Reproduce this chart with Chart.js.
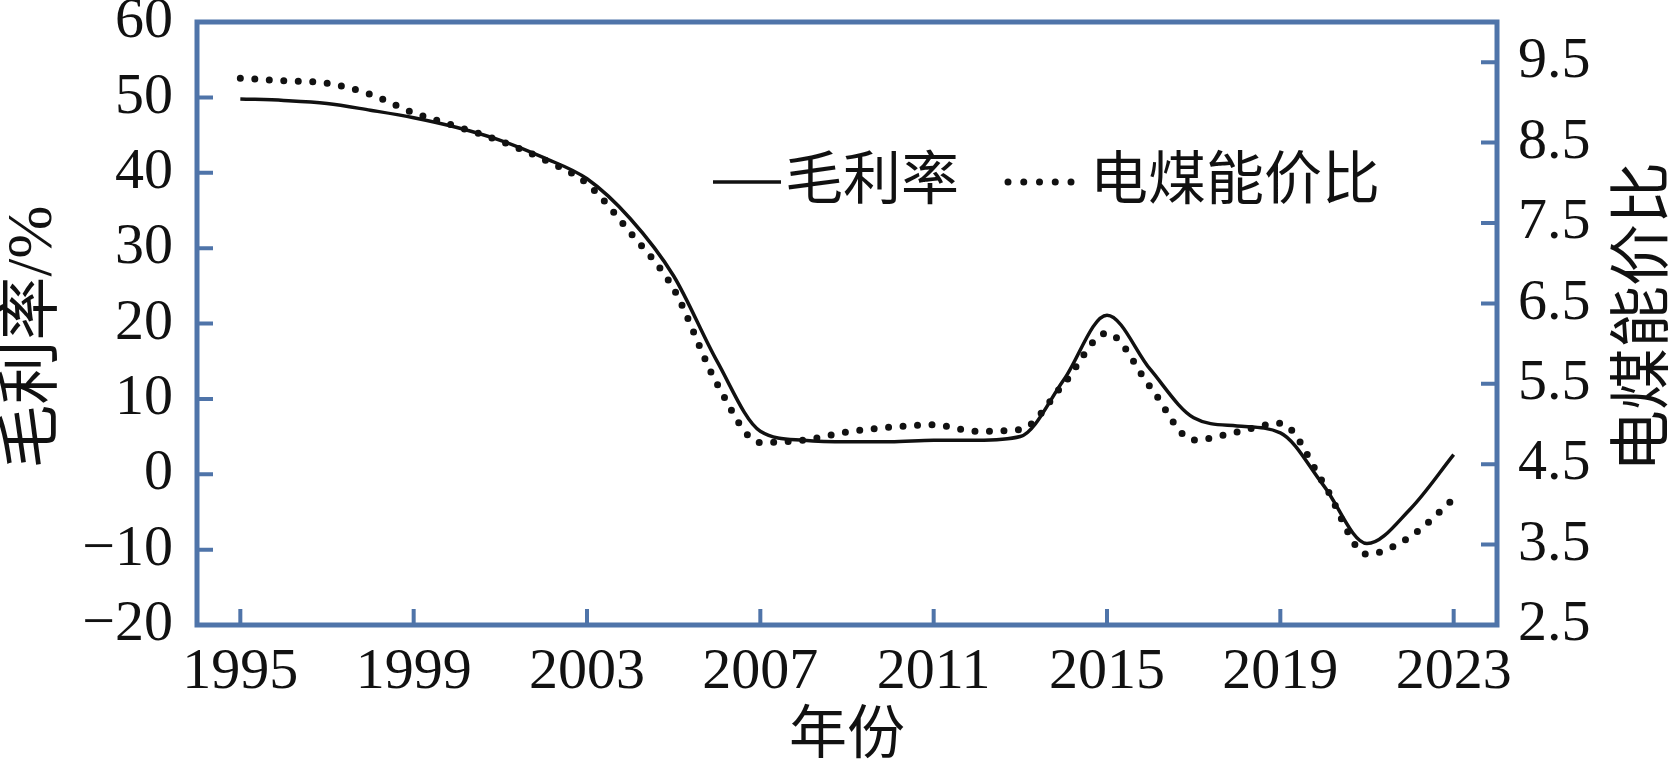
<!DOCTYPE html>
<html lang="zh-CN">
<head>
<meta charset="UTF-8" />
<title>毛利率与电煤能价比</title>
<style>
  * {margin:0; padding:0; box-sizing:border-box;}
  body {background:#fff;}
  .wrap {width:1672px; height:777px; position:relative;}
</style>
</head>
<body>
<div class="wrap"><canvas id="chart"></canvas></div>

<script src="https://cdn.jsdelivr.net/npm/chart.js@4"></script>
<script>
  // data
  const years = [1995, 1996, 1997, 1998, 1999, 2000, 2001, 2002, 2003, 2004,
                 2005, 2006, 2007, 2008, 2009, 2010, 2011, 2012, 2013, 2014,
                 2015, 2016, 2017, 2018, 2019, 2020, 2021, 2022, 2023];
  // 毛利率 (%), left axis
  const margin = [49.8, 49.6, 49.2, 48.3, 47.3, 46.0, 44.3, 42.0, 39.2, 33.9,
                  26.3, 15.0, 5.7, 4.5, 4.3, 4.3, 4.5, 4.5, 5.0, 12.5,
                  21.1, 13.9, 7.5, 6.4, 5.5, -1.5, -9.2, -4.6, 2.6];
  // 电煤能价比, right axis
  const priceRatio = [9.30, 9.27, 9.24, 9.10, 8.87, 8.70, 8.52, 8.29, 7.99, 7.38,
                      6.68, 5.50, 4.77, 4.80, 4.90, 4.96, 4.99, 4.91, 4.93, 5.50,
                      6.13, 5.46, 4.80, 4.90, 5.01, 4.26, 3.38, 3.60, 4.07];

  const xTicks = [1995, 1999, 2003, 2007, 2011, 2015, 2019, 2023];
  const leftTicks = [-20, -10, 0, 10, 20, 30, 40, 50, 60];
  const rightTicks = [2.5, 3.5, 4.5, 5.5, 6.5, 7.5, 8.5, 9.5];

  const frameColor = '#4f74a9';
  const fontFam = '"Liberation Serif", "Noto Sans CJK SC", serif';

  function vTitle(ctx, text, x, y, size) {
    ctx.save();
    ctx.fillStyle = '#111';
    ctx.font = size + 'px ' + fontFam;
    ctx.textAlign = 'center';
    ctx.textBaseline = 'middle';
    ctx.translate(x, y);
    ctx.rotate(-Math.PI / 2);
    ctx.fillText(text, 0, 0);
    ctx.restore();
  }

  // blue box round the plot, inward tick marks, side titles, legend
  const framePlugin = {
    id: 'frame',
    afterDraw(chart) {
      const {ctx, chartArea: a, scales} = chart;
      const tl = 16;
      ctx.save();
      ctx.strokeStyle = frameColor;
      ctx.lineWidth = 4;
      ctx.beginPath();
      scales.x.ticks.forEach(t => {
        const px = scales.x.getPixelForValue(t.value);
        ctx.moveTo(px, a.bottom); ctx.lineTo(px, a.bottom - tl);
      });
      scales.y.ticks.forEach(t => {
        const py = scales.y.getPixelForValue(t.value);
        ctx.moveTo(a.left, py); ctx.lineTo(a.left + tl, py);
      });
      scales.y1.ticks.forEach(t => {
        const py = scales.y1.getPixelForValue(t.value);
        ctx.moveTo(a.right, py); ctx.lineTo(a.right - tl, py);
      });
      ctx.stroke();
      ctx.lineWidth = 5;
      ctx.strokeRect(a.left, a.top, a.right - a.left, a.bottom - a.top);
      ctx.restore();

      // both side titles read bottom to top
      vTitle(ctx, '毛利率/%', 34, 337, 64);
      vTitle(ctx, '电煤能价比', 1647, 317, 62);

      // legend inside the plot
      const ds = chart.data.datasets;
      const ly = a.top + 160;
      ctx.save();
      ctx.fillStyle = '#111';
      ctx.font = '58px ' + fontFam;
      ctx.textBaseline = 'middle';
      ctx.textAlign = 'left';
      ctx.strokeStyle = '#111';
      ctx.lineWidth = 3.5;
      ctx.beginPath();
      ctx.moveTo(a.left + 516, ly); ctx.lineTo(a.left + 584, ly);
      ctx.stroke();
      ctx.fillText(ds[0].label, a.left + 588, ly + 2);
      ctx.lineWidth = 7;
      ctx.lineCap = 'round';
      ctx.setLineDash([0, 15.75]);
      ctx.beginPath();
      ctx.moveTo(a.left + 811, ly); ctx.lineTo(a.left + 875, ly);
      ctx.stroke();
      ctx.setLineDash([]);
      ctx.fillText(ds[1].label, a.left + 893, ly + 2);
      ctx.restore();
    }
  };

  const tickFont = {family: fontFam, size: 58};
  const noPad = s => { s.paddingTop = 0; s.paddingBottom = 0; s.paddingLeft = 0; s.paddingRight = 0; };

  new Chart(document.getElementById('chart'), {
    type: 'line',
    data: {
      datasets: [{
        label: '毛利率',
        data: years.map((yr, i) => ({x: yr, y: margin[i]})),
        yAxisID: 'y',
        borderColor: '#111',
        borderWidth: 3.5,
        pointRadius: 0,
        cubicInterpolationMode: 'monotone'
      }, {
        label: '电煤能价比',
        data: years.map((yr, i) => ({x: yr, y: priceRatio[i]})),
        yAxisID: 'y1',
        borderColor: '#111',
        borderWidth: 7,
        borderDash: [0, 14.5],
        borderCapStyle: 'round',
        pointRadius: 0,
        cubicInterpolationMode: 'monotone'
      }]
    },
    options: {
      responsive: true,
      maintainAspectRatio: false,
      animation: false,
      layout: {padding: {top: 22, left: 0, right: 0, bottom: 0}},
      plugins: {legend: {display: false}, tooltip: {enabled: false}},
      scales: {
        x: {
          type: 'linear', min: 1994, max: 2024,
          grid: {display: false, drawTicks: false}, border: {display: false},
          afterBuildTicks: s => { s.ticks = xTicks.map(v => ({value: v})); },
          afterFit: s => { s.height = 152; noPad(s); },
          ticks: {color: '#111', font: tickFont, padding: 13, maxRotation: 0,
                  autoSkip: false, callback: v => String(v)},
          title: {display: true, text: '年份', color: '#111',
                  font: {family: fontFam, size: 58}, padding: {top: 0, bottom: 4}}
        },
        y: {
          position: 'left', min: -20, max: 60,
          grid: {display: false, drawTicks: false}, border: {display: false},
          afterBuildTicks: s => { s.ticks = leftTicks.map(v => ({value: v})); },
          afterFit: s => { s.width = 197; noPad(s); },
          ticks: {color: '#111', font: tickFont, padding: 24, autoSkip: false,
                  callback: v => v < 0 ? '\u2212' + (-v) : String(v)}
        },
        y1: {
          position: 'right', min: 2.5, max: 10,
          grid: {display: false, drawTicks: false}, border: {display: false},
          afterBuildTicks: s => { s.ticks = rightTicks.map(v => ({value: v})); },
          afterFit: s => { s.width = 175; noPad(s); },
          ticks: {color: '#111', font: tickFont, padding: 21, autoSkip: false,
                  callback: v => v.toFixed(1)}
        }
      }
    },
    plugins: [framePlugin]
  });
</script>
</body>
</html>
